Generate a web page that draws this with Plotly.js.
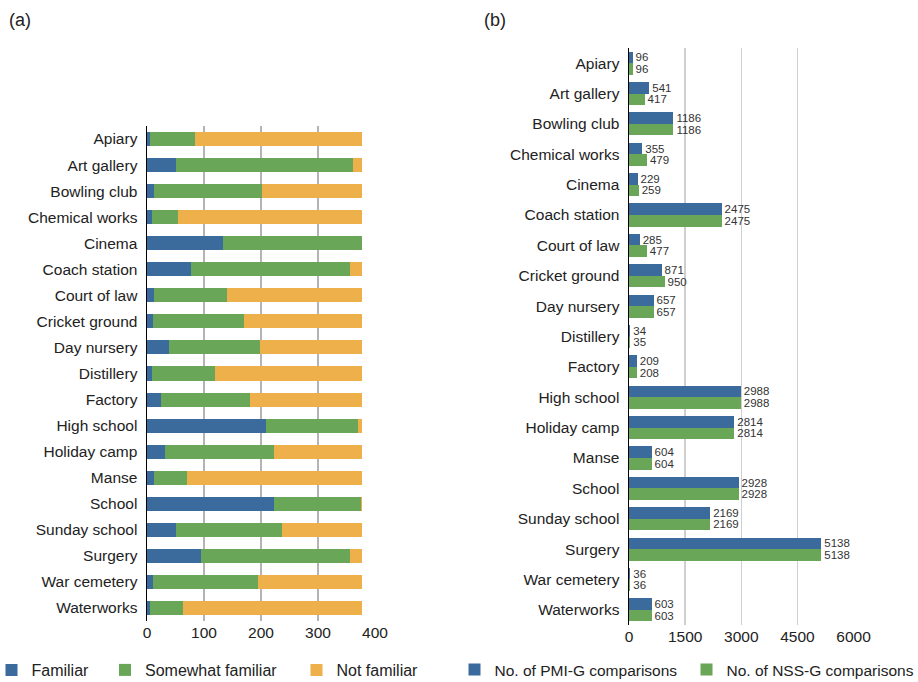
<!DOCTYPE html>
<html>
<head>
<meta charset="utf-8">
<script src="https://cdn.plot.ly/plotly-3.0.1.min.js"></script>
<style>html,body{margin:0;padding:0;background:#fff}#chart{width:918px;height:682px}</style>
</head>
<body>
<div id="chart"></div>
<script>
const categories = ["Apiary","Art gallery","Bowling club","Chemical works","Cinema","Coach station","Court of law","Cricket ground","Day nursery","Distillery","Factory","High school","Holiday camp","Manse","School","Sunday school","Surgery","War cemetery","Waterworks"];
const familiar = [6,50,12,8,133,78,12,10,38,8,25,208,32,12,222,50,95,10,6];
const somewhatFamiliar = [78,311,189,47,245,278,128,160,161,112,155,163,190,58,153,186,261,185,57];
const notFamiliar = [294,17,177,323,0,22,238,208,179,258,198,7,156,308,3,142,22,183,315];
const pmiG = [96,541,1186,355,229,2475,285,871,657,34,209,2988,2814,604,2928,2169,5138,36,603];
const nssG = [96,417,1186,479,259,2475,477,950,657,35,208,2988,2814,604,2928,2169,5138,36,603];
const leftTicks = [0,100,200,300,400];
const rightTicks = [0,1500,3000,4500,6000];

const BLUE = "#3b6a9c", GREEN = "#6aa657", ORANGE = "#eeb04a";
const FONT = "Liberation Sans, Arial, sans-serif";

const traces = [
  {type:"bar", orientation:"h", name:"Familiar", y:categories, x:familiar, marker:{color:BLUE}, xaxis:"x", yaxis:"y", legend:"legend"},
  {type:"bar", orientation:"h", name:"Somewhat familiar", y:categories, x:somewhatFamiliar, marker:{color:GREEN}, xaxis:"x", yaxis:"y", legend:"legend3"},
  {type:"bar", orientation:"h", name:"Not familiar", y:categories, x:notFamiliar, marker:{color:ORANGE}, xaxis:"x", yaxis:"y", legend:"legend4"},
  {type:"bar", orientation:"h", name:"No. of PMI-G comparisons", y:categories, x:pmiG, text:pmiG.map(String), textposition:"outside", constraintext:"none", cliponaxis:false, textfont:{size:11.5, color:"#333"}, marker:{color:BLUE}, xaxis:"x2", yaxis:"y2", legend:"legend2", offsetgroup:"a", width:0.38, offset:-0.38},
  {type:"bar", orientation:"h", name:"No. of NSS-G comparisons", y:categories, x:nssG, text:nssG.map(String), textposition:"outside", constraintext:"none", cliponaxis:false, textfont:{size:11.5, color:"#333"}, marker:{color:GREEN}, xaxis:"x2", yaxis:"y2", legend:"legend5", offsetgroup:"b", width:0.38, offset:0}
];

function leg(xpx, size) {
  return {orientation:"h", traceorder:"normal", x:xpx/918, xanchor:"left", y:12/682, yanchor:"middle", font:{size:size}, itemgap:0, bgcolor:"rgba(0,0,0,0)", borderwidth:0};
}

const layout = {
  width:918, height:682,
  margin:{l:0,r:0,t:0,b:0, autoexpand:false},
  paper_bgcolor:"#fff", plot_bgcolor:"#fff",
  font:{family:FONT, size:15.5, color:"#222"},
  barmode:"stack",
  bargap:0.46,
  xaxis:{domain:[147/918, 375/918], range:[0,400], tickvals:leftTicks, showgrid:true, gridcolor:"#b4b4b4", gridwidth:1.5, zeroline:false, showline:false, anchor:"y", automargin:false},
  yaxis:{domain:[61/682, 556/682], autorange:"reversed", showline:true, linecolor:"#000", linewidth:1.5, showgrid:false, ticklabelstandoff:5, anchor:"x", automargin:false},
  xaxis2:{domain:[629/918, 853.5/918], range:[0,6000], tickvals:rightTicks, showgrid:true, gridcolor:"#cfcfcf", gridwidth:1.5, zeroline:false, showline:false, anchor:"y2", automargin:false},
  yaxis2:{domain:[57/682, 634/682], autorange:"reversed", showline:true, linecolor:"#000", linewidth:1.5, showgrid:false, ticklabelstandoff:5, anchor:"x2", automargin:false},
  legend:leg(-8.5, 16),
  legend3:leg(105, 16),
  legend4:leg(296.5, 16),
  legend2:leg(454.5, 15.5),
  legend5:leg(686.5, 15.5),
  annotations:[
    {text:"(a)", xref:"paper", yref:"paper", x:7/918, y:(682-20)/682, xanchor:"left", yanchor:"middle", showarrow:false, font:{size:18, color:"#222"}},
    {text:"(b)", xref:"paper", yref:"paper", x:482/918, y:(682-20)/682, xanchor:"left", yanchor:"middle", showarrow:false, font:{size:18, color:"#222"}}
  ],
  showlegend:true
};

Plotly.newPlot("chart", traces, layout, {displayModeBar:false, staticPlot:true});
</script>
</body>
</html>
